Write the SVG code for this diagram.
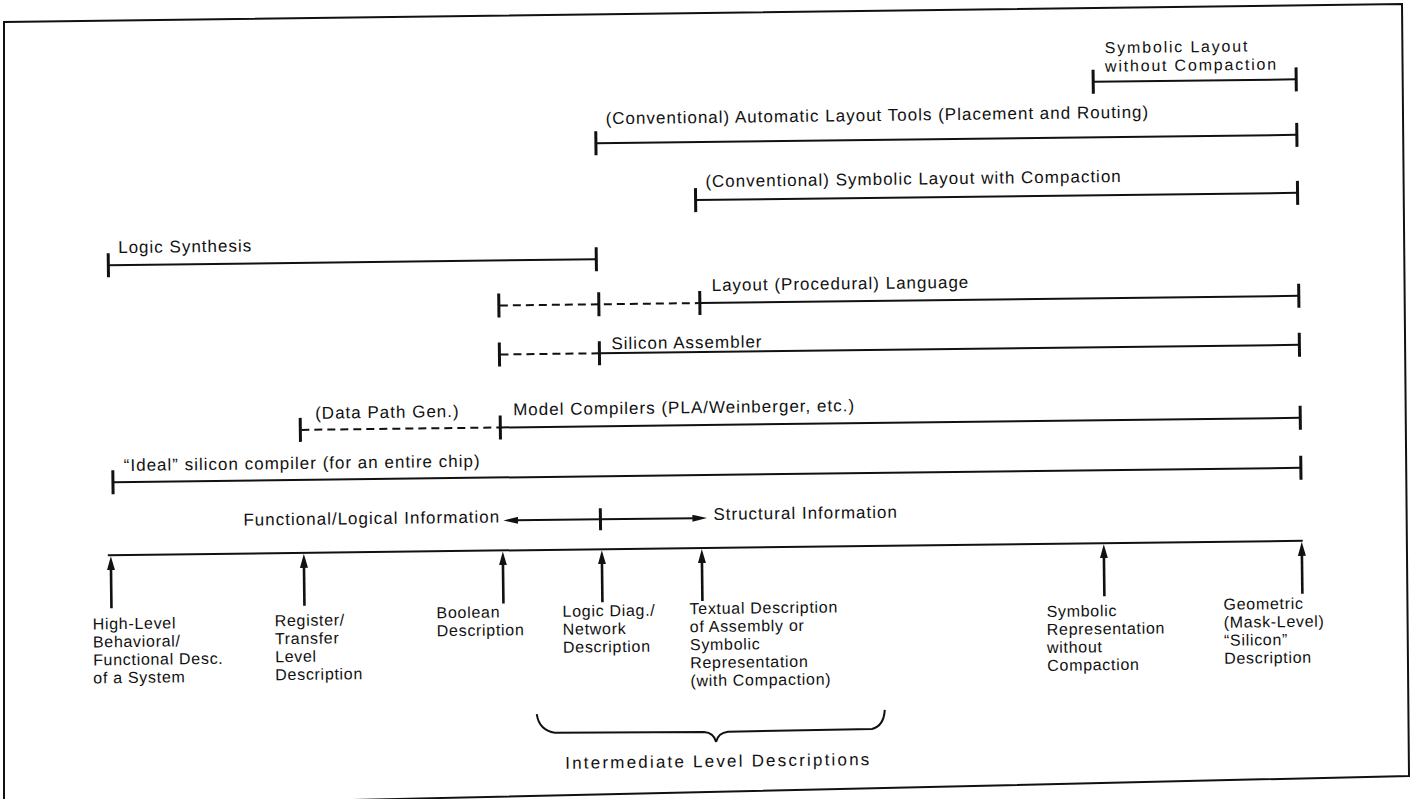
<svg xmlns="http://www.w3.org/2000/svg" width="1411" height="799" viewBox="0 0 1411 799">
<style>
.bg{fill:#ffffff}
.frame{fill:none;stroke:#111;stroke-width:2}
.bar{stroke:#111;stroke-width:2;fill:none}
.dash{stroke:#111;stroke-width:2;stroke-dasharray:8 5;fill:none}
.tick{stroke:#111;stroke-width:3}
.t{font-family:"Liberation Sans",Arial,sans-serif;font-size:17px;letter-spacing:1px;fill:#111}
.s{font-family:"Liberation Sans",Arial,sans-serif;font-size:16px;letter-spacing:0.7px;fill:#111}
.arr{stroke:#111;stroke-width:2.6;fill:none}
.inf{stroke:#111;stroke-width:2;fill:none}
</style>
<defs>
<marker id="up" markerUnits="userSpaceOnUse" markerWidth="14" markerHeight="8" refX="3" refY="4" orient="auto">
<path d="M0,0 L14,4 L0,8 z" fill="#111"/>
</marker>
<marker id="hd" markerUnits="userSpaceOnUse" markerWidth="15" markerHeight="7" refX="3" refY="3.5" orient="auto">
<path d="M0,0 L15,3.5 L0,7 z" fill="#111"/>
</marker>
</defs>
<rect class="bg" x="0" y="0" width="1411" height="799"/>
<path class="frame" d="M4,806 L4,22 L1402,4 L1409,776 L0,808"/>
<g transform="rotate(-0.69 706 400)">
<g id="symbolic-layout-no-compaction">
<line class="bar" x1="1097" y1="86.5" x2="1300" y2="86.5"/>
<line class="tick" x1="1097" y1="74.5" x2="1097" y2="98.5"/>
<line class="tick" x1="1300" y1="74.5" x2="1300" y2="98.5"/>
<text class="t" x="1109" y="58" style="font-size:16px;letter-spacing:1.8px">Symbolic Layout</text>
<text class="t" x="1109" y="76.5" style="font-size:16px;letter-spacing:1.8px">without Compaction</text>
</g>
<g id="automatic-layout-tools">
<line class="bar" x1="599" y1="142" x2="1300" y2="142"/>
<line class="tick" x1="599" y1="130" x2="599" y2="154"/>
<line class="tick" x1="1300" y1="130" x2="1300" y2="154"/>
<text class="t" x="609" y="123">(Conventional) Automatic Layout Tools (Placement and Routing)</text>
</g>
<g id="symbolic-layout-compaction">
<line class="bar" x1="698" y1="200" x2="1300" y2="200"/>
<line class="tick" x1="698" y1="188" x2="698" y2="212"/>
<line class="tick" x1="1300" y1="188" x2="1300" y2="212"/>
<text class="t" x="708" y="187">(Conventional) Symbolic Layout with Compaction</text>
</g>
<g id="logic-synthesis">
<line class="bar" x1="110" y1="258" x2="598" y2="258"/>
<line class="tick" x1="110" y1="246" x2="110" y2="270"/>
<line class="tick" x1="598" y1="246" x2="598" y2="270"/>
<text class="t" x="120" y="246">Logic Synthesis</text>
</g>
<g id="layout-language">
<line class="dash" x1="501" y1="303" x2="700" y2="303"/>
<line class="bar" x1="701" y1="303" x2="1300" y2="303"/>
<line class="tick" x1="500" y1="291" x2="500" y2="315"/>
<line class="tick" x1="600" y1="291" x2="600" y2="315"/>
<line class="tick" x1="701" y1="291" x2="701" y2="315"/>
<line class="tick" x1="1300" y1="291" x2="1300" y2="315"/>
<text class="t" x="713" y="291">Layout (Procedural) Language</text>
</g>
<g id="silicon-assembler">
<line class="dash" x1="501" y1="352" x2="599" y2="352"/>
<line class="bar" x1="600" y1="352" x2="1300" y2="352"/>
<line class="tick" x1="500" y1="340" x2="500" y2="364"/>
<line class="tick" x1="600" y1="340" x2="600" y2="364"/>
<line class="tick" x1="1300" y1="340" x2="1300" y2="364"/>
<text class="t" x="612" y="348">Silicon Assembler</text>
</g>
<g id="model-compilers">
<line class="dash" x1="301" y1="425" x2="499" y2="425"/>
<line class="bar" x1="500" y1="425" x2="1300" y2="425"/>
<line class="tick" x1="300" y1="413" x2="300" y2="437"/>
<line class="tick" x1="500" y1="413" x2="500" y2="437"/>
<line class="tick" x1="1300" y1="413" x2="1300" y2="437"/>
<text class="t" x="315" y="414">(Data Path Gen.)</text>
<text class="t" x="513" y="413">Model Compilers (PLA/Weinberger, etc.)</text>
</g>
<g id="ideal-silicon-compiler">
<line class="bar" x1="112" y1="475" x2="1300" y2="475"/>
<line class="tick" x1="112" y1="463" x2="112" y2="487"/>
<line class="tick" x1="1300" y1="463" x2="1300" y2="487"/>
<text class="t" x="123" y="464">“Ideal” silicon compiler (for an entire chip)</text>
</g>
<g id="information-axis">
<line class="tick" x1="599" y1="507" x2="599" y2="529"/>
<text class="t" x="242" y="520">Functional/Logical Information</text>
<text class="t" x="712" y="520">Structural Information</text>
</g>
<g id="abstraction-axis">
<line class="bar" x1="106" y1="548" x2="1301" y2="548"/>
</g>
<g id="connectors">
<line class="inf" x1="599" y1="518" x2="514" y2="518" marker-end="url(#hd)"/>
<line class="inf" x1="599" y1="518" x2="694" y2="518" marker-end="url(#hd)"/>
<line class="arr" x1="109" y1="601" x2="109" y2="560" marker-end="url(#up)"/>
<line class="arr" x1="302" y1="601" x2="302" y2="560" marker-end="url(#up)"/>
<line class="arr" x1="501" y1="601" x2="501" y2="560" marker-end="url(#up)"/>
<line class="arr" x1="600" y1="601" x2="600" y2="560" marker-end="url(#up)"/>
<line class="arr" x1="700" y1="601" x2="700" y2="560" marker-end="url(#up)"/>
<line class="arr" x1="1102" y1="601" x2="1102" y2="560" marker-end="url(#up)"/>
<line class="arr" x1="1300" y1="601" x2="1300" y2="560" marker-end="url(#up)"/>
</g>
<g id="high-level-desc">
<text class="s" x="90" y="622"><tspan x="90">High-Level</tspan><tspan x="90" dy="18">Behavioral/</tspan><tspan x="90" dy="18">Functional Desc.</tspan><tspan x="90" dy="18">of a System</tspan></text>
</g>
<g id="rt-level-desc">
<text class="s" x="272" y="621"><tspan x="272">Register/</tspan><tspan x="272" dy="18">Transfer</tspan><tspan x="272" dy="18">Level</tspan><tspan x="272" dy="18">Description</tspan></text>
</g>
<g id="boolean-desc">
<text class="s" x="434" y="615"><tspan x="434">Boolean</tspan><tspan x="434" dy="18">Description</tspan></text>
</g>
<g id="logic-diag-desc">
<text class="s" x="560" y="615"><tspan x="560">Logic Diag./</tspan><tspan x="560" dy="18">Network</tspan><tspan x="560" dy="18">Description</tspan></text>
</g>
<g id="textual-desc">
<text class="s" x="687" y="614"><tspan x="687">Textual Description</tspan><tspan x="687" dy="18">of Assembly or</tspan><tspan x="687" dy="18">Symbolic</tspan><tspan x="687" dy="18">Representation</tspan><tspan x="687" dy="18">(with Compaction)</tspan></text>
</g>
<g id="symbolic-repr-desc">
<text class="s" x="1044" y="621"><tspan x="1044">Symbolic</tspan><tspan x="1044" dy="18">Representation</tspan><tspan x="1044" dy="18">without</tspan><tspan x="1044" dy="18">Compaction</tspan></text>
</g>
<g id="geometric-desc">
<text class="s" x="1221" y="616"><tspan x="1221">Geometric</tspan><tspan x="1221" dy="18">(Mask-Level)</tspan><tspan x="1221" dy="18">“Silicon”</tspan><tspan x="1221" dy="18">Description</tspan></text>
</g>
<g id="intermediate-brace">
<path class="bar" stroke-width="2.5" d="M533,712 Q535,728 551,731 L700,732 Q710,733 712,742 Q714,733 724,732 L868,731 Q880,728 881,712"/>
<text class="t" x="714" y="767" text-anchor="middle" style="letter-spacing:2.2px">Intermediate Level Descriptions</text>
</g>
</g>
</svg>
